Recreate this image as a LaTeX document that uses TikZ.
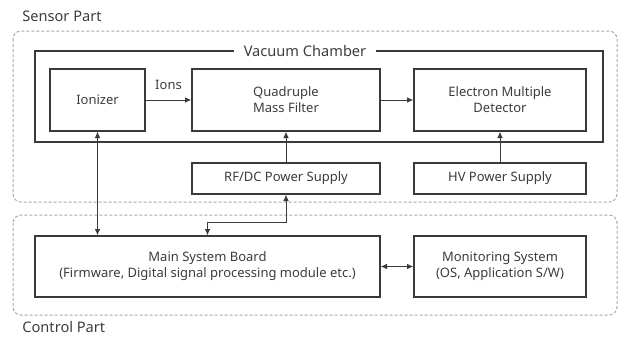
\documentclass[tikz,border=0pt]{standalone}
\usepackage{fontspec}
\setmainfont{Noto Sans}
\usetikzlibrary{arrows.meta}
\definecolor{boxline}{HTML}{3A3A3A}
\definecolor{partline}{HTML}{A8A8A8}
\definecolor{txt}{HTML}{3C3C3C}
\begin{document}
\begin{tikzpicture}[x=0.5pt,y=-0.5pt,>={Latex[length=3.2pt,width=2.8pt]},
    block/.style={draw=boxline,line width=0.6pt,align=center,text=txt,
      font=\fontsize{6.5}{8}\selectfont,inner sep=0pt},
    part/.style={draw=partline,line width=0.5pt,dash pattern=on 1.5pt off 1pt,
      rounded corners=4pt},
    label/.style={text=txt,font=\fontsize{7.3}{9}\selectfont,inner sep=0pt},
    link/.style={draw=boxline,line width=0.5pt}]
    \useasboundingbox (0,0) rectangle (621,339);
    % dashed parts
    \draw[part] (13,31) rectangle (617,202);
    \draw[part] (13,215) rectangle (617,315);
    \node[label,anchor=west] (sensor) at (22,16) {Sensor Part};
    \node[label,anchor=west] (control) at (22,327) {Control Part};
    % vacuum chamber
    \draw[boxline,line width=0.6pt] (35,51) rectangle (603,142);
    \node[label,fill=white,inner xsep=5pt] (chamber) at (305,51) {Vacuum Chamber};
    % blocks
    \node[block,minimum width=47.5pt,minimum height=31pt] (ion) at (97.5,100) {Ionizer};
    \node[block,minimum width=94pt,minimum height=31pt] (quad) at (286,100)
      {Quadruple\\ Mass Filter};
    \node[block,minimum width=86pt,minimum height=31pt] (emd) at (500,100)
      {Electron Multiple\\ Detector};
    \node[block,minimum width=94pt,minimum height=15.5pt] (rfdc) at (286,178.5)
      {RF/DC Power Supply};
    \node[block,minimum width=86pt,minimum height=15.5pt] (hv) at (500,178.5)
      {HV Power Supply};
    \node[block,minimum width=172.5pt,minimum height=30.5pt] (main) at (207.5,266.5)
      {Main System Board\\ (Firmware, Digital signal processing module etc.)};
    \node[block,minimum width=86pt,minimum height=30.5pt] (mon) at (500,266.5)
      {Monitoring System\\ (OS, Application S/W)};
    % connectors
    \draw[link,->] (ion) -- node[label,above=5pt,font=\fontsize{6.5}{8}\selectfont] (ions) {Ions} (quad);
    \draw[link,->] (quad) -- (emd);
    \draw[link,->] (rfdc) -- (quad);
    \draw[link,->] (hv) -- (emd);
    \draw[link,<->] (ion.south) -- (ion.south |- main.north);
    \draw[link,<->] (rfdc.south) -- ++(0,28) -| (main.north);
    \draw[link,<->] (main) -- (mon);
  \end{tikzpicture}
\end{document}
